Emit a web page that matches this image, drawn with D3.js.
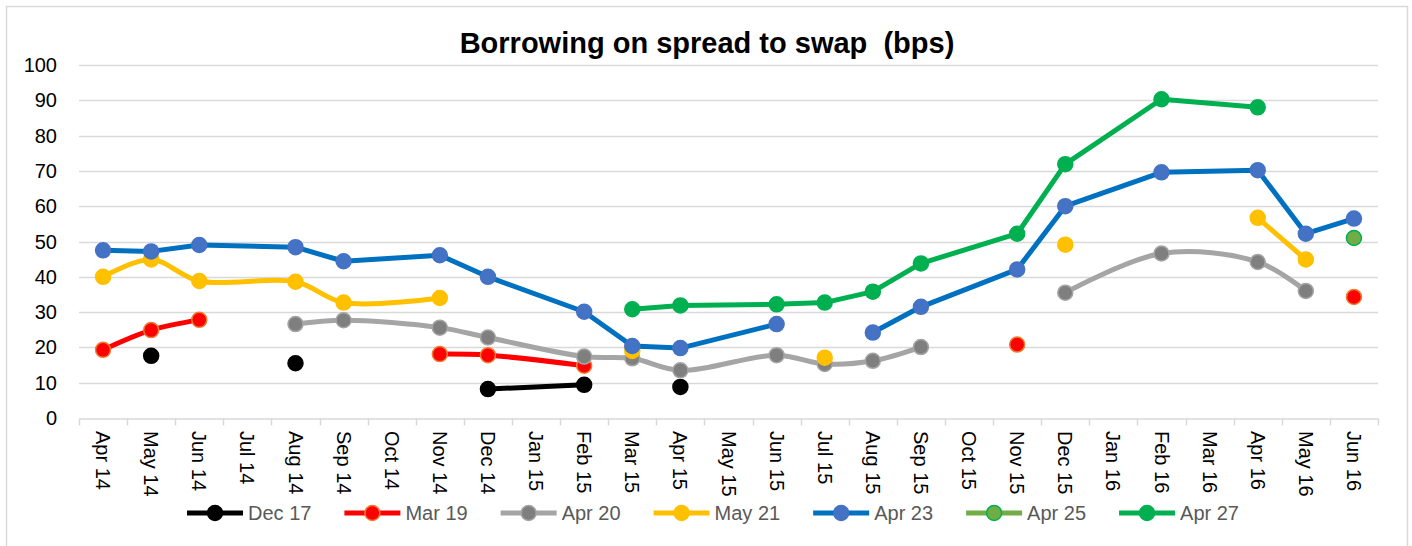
<!DOCTYPE html>
<html>
<head>
<meta charset="utf-8">
<script src="https://cdn.jsdelivr.net/npm/d3@7"></script>
<style>
  body { margin: 0; background: #fff; }
  svg { display: block; font-family: "Liberation Sans", Arial, sans-serif; }
</style>
</head>
<body>
<div id="chart"></div>
<script>
// every month on the date axis
var months = ['Apr 14', 'May 14', 'Jun 14', 'Jul 14', 'Aug 14', 'Sep 14', 'Oct 14', 'Nov 14', 'Dec 14',
    'Jan 15', 'Feb 15', 'Mar 15', 'Apr 15', 'May 15', 'Jun 15', 'Jul 15', 'Aug 15', 'Sep 15', 'Oct 15',
    'Nov 15', 'Dec 15', 'Jan 16', 'Feb 16', 'Mar 16', 'Apr 16', 'May 16', 'Jun 16'];

// months that carry a row of data (lines join consecutive rows only)
var rowMonths = ['Apr 14', 'May 14', 'Jun 14', 'Aug 14', 'Sep 14', 'Nov 14', 'Dec 14', 'Feb 15', 'Mar 15',
    'Apr 15', 'Jun 15', 'Jul 15', 'Aug 15', 'Sep 15', 'Nov 15', 'Dec 15', 'Feb 16', 'Apr 16', 'May 16', 'Jun 16'];

var dec17 = [null, 17.6, null, 15.5, null, null, 8.2, 9.4, null, 8.8, null, null, null, null, null, null, null, null, null, null];
var mar19 = [19.3, 24.9, 27.8, null, null, 18.1, 17.8, 14.8, null, null, null, null, null, null, 20.8, null, null, null, null, 34.3];
var apr20 = [null, null, null, 26.6, 27.7, 25.6, 22.8, 17.4, 16.9, 13.5, 17.8, 15.3, 16.2, 20.1, null, 35.5, 46.6, 44.2, 36.0, null];
var may21 = [40.0, 44.9, 38.8, 38.6, 32.7, 34.0, null, null, 19.0, null, null, 17.1, null, null, null, 49.1, null, 56.7, 44.9, null];
var apr23 = [47.5, 47.2, 49.0, 48.4, 44.4, 46.1, 40.0, 30.1, 20.4, 19.8, 26.6, null, 24.2, 31.5, 42.1, 60.0, 69.6, 70.2, 52.2, 56.5];
var apr25 = [null, null, null, null, null, null, null, null, null, null, null, null, null, null, null, null, null, null, null, 51.0];
var apr27 = [null, null, null, null, null, null, null, null, 30.8, 31.9, 32.2, 32.7, 35.8, 43.8, 52.2, 71.9, 90.3, 88.0, null, null];

var yTicks = [0, 10, 20, 30, 40, 50, 60, 70, 80, 90, 100];

var seriesNames = ['Dec 17', 'Mar 19', 'Apr 20', 'May 21', 'Apr 23', 'Apr 25', 'Apr 27'];
var seriesValues = [dec17, mar19, apr20, may21, apr23, apr25, apr27];

var styles = [
    { line: '#000000', fill: '#000000', stroke: '#000000', smooth: false },
    { line: '#FF0000', fill: '#FF0000', stroke: '#ED7D31', smooth: true },
    { line: '#A5A5A5', fill: '#7F7F7F', stroke: '#A5A5A5', smooth: true },
    { line: '#FFC000', fill: '#FFC000', stroke: '#FFC000', smooth: true },
    { line: '#0070C0', fill: '#4472C4', stroke: '#4472C4', smooth: false },
    { line: '#70AD47', fill: '#70AD47', stroke: '#00B050', smooth: false },
    { line: '#00B050', fill: '#00B050', stroke: '#00B050', smooth: false }
];

var W = 1412, H = 546;
var plot = { left: 79, right: 1378, top: 65, bottom: 418 };

var svg = d3.select('#chart').append('svg')
    .attr('width', W)
    .attr('height', H);

// chart area frame
svg.append('rect')
    .attr('x', 6.5).attr('y', 6.5)
    .attr('width', 1401).attr('height', 580)
    .attr('fill', '#fff')
    .attr('stroke', '#d9d9d9')
    .attr('stroke-width', 1.5);

var x = d3.scaleBand().domain(months).range([plot.left, plot.right]);
var y = d3.scaleLinear().domain([0, 100]).range([plot.bottom, plot.top]);
var cx = function (m) { return x(m) + x.bandwidth() / 2; };

// title
svg.append('text')
    .attr('x', 707)
    .attr('y', 53)
    .attr('text-anchor', 'middle')
    .attr('font-size', 29)
    .attr('font-weight', 'bold')
    .text('Borrowing on spread to swap\u00a0\u00a0(bps)');

// gridlines
svg.append('g')
    .selectAll('line')
    .data(yTicks.filter(function (d) { return d > 0; }))
    .enter().append('line')
    .attr('x1', plot.left).attr('x2', plot.right)
    .attr('y1', function (d) { return Math.round(y(d)) + 0.5; })
    .attr('y2', function (d) { return Math.round(y(d)) + 0.5; })
    .attr('stroke', '#d9d9d9')
    .attr('stroke-width', 1.5);

// y axis labels
svg.append('g')
    .selectAll('text')
    .data(yTicks)
    .enter().append('text')
    .attr('x', 57)
    .attr('y', function (d) { return y(d); })
    .attr('dy', '0.35em')
    .attr('text-anchor', 'end')
    .attr('font-size', 20)
    .attr('fill', '#000')
    .text(function (d) { return d; });

// x axis line with tick marks between months
var xAxis = d3.axisBottom(x).tickSize(0).tickFormat('');
var gx = svg.append('g')
    .attr('transform', 'translate(0,' + (Math.round(plot.bottom) + 0.5) + ')')
    .call(xAxis);
gx.select('.domain').attr('stroke', '#d9d9d9').attr('stroke-width', 1.5);
gx.selectAll('.tick').remove();

var bounds = months.map(function (m) { return x(m); }).concat([plot.right]);
gx.selectAll('line.sep')
    .data(bounds)
    .enter().append('line')
    .attr('class', 'sep')
    .attr('x1', function (d) { return Math.round(d) + 0.5; })
    .attr('x2', function (d) { return Math.round(d) + 0.5; })
    .attr('y1', 0).attr('y2', 7)
    .attr('stroke', '#d9d9d9')
    .attr('stroke-width', 1.5);

// rotated month labels
svg.append('g')
    .selectAll('text')
    .data(months)
    .enter().append('text')
    .attr('transform', function (m) { return 'translate(' + cx(m) + ',431) rotate(90)'; })
    .attr('dy', '0.35em')
    .attr('text-anchor', 'start')
    .attr('font-size', 20)
    .attr('fill', '#000')
    .text(function (m) { return m; });

// series
var lineStraight = d3.line()
    .defined(function (d) { return d.v !== null; })
    .x(function (d) { return cx(d.m); })
    .y(function (d) { return y(d.v); });
var lineSmooth = d3.line()
    .defined(function (d) { return d.v !== null; })
    .x(function (d) { return cx(d.m); })
    .y(function (d) { return y(d.v); })
    .curve(d3.curveCatmullRom.alpha(0.5));

seriesValues.forEach(function (vals, i) {
    var st = styles[i];
    var rows = rowMonths.map(function (m, k) { return { m: m, v: vals[k] }; });
    var g = svg.append('g').attr('class', 'series');
    g.append('path')
        .attr('d', (st.smooth ? lineSmooth : lineStraight)(rows))
        .attr('fill', 'none')
        .attr('stroke', st.line)
        .attr('stroke-width', 5)
        .attr('stroke-linejoin', 'round')
        .attr('stroke-linecap', 'round');
    g.selectAll('circle')
        .data(rows.filter(function (d) { return d.v !== null; }))
        .enter().append('circle')
        .attr('cx', function (d) { return cx(d.m); })
        .attr('cy', function (d) { return y(d.v); })
        .attr('r', 7.5)
        .attr('fill', st.fill)
        .attr('stroke', st.stroke)
        .attr('stroke-width', 1.5);
});

// legend
var legend = svg.append('g');
var lx = 0;
seriesNames.forEach(function (name, i) {
    var st = styles[i];
    var item = legend.append('g').attr('transform', 'translate(' + lx + ',0)');
    item.append('line')
        .attr('x1', 0).attr('x2', 56)
        .attr('y1', 0).attr('y2', 0)
        .attr('stroke', st.line)
        .attr('stroke-width', 5);
    item.append('circle')
        .attr('cx', 28).attr('cy', 0).attr('r', 7.5)
        .attr('fill', st.fill)
        .attr('stroke', st.stroke)
        .attr('stroke-width', 1.5);
    var t = item.append('text')
        .attr('x', 61)
        .attr('dy', '0.35em')
        .attr('font-size', 20)
        .attr('fill', '#595959')
        .text(name);
    lx += 61 + t.node().getComputedTextLength() + 33;
});
lx -= 33;
legend.attr('transform', 'translate(' + (713 - lx / 2) + ',513)');
</script>
</body>
</html>
